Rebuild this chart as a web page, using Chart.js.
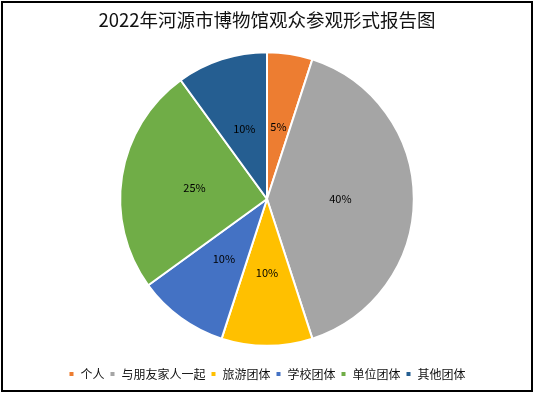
<!DOCTYPE html>
<html>
<head>
<meta charset="utf-8">
<script src="https://cdn.jsdelivr.net/npm/chart.js@4"></script>
<style>
  body { margin: 0; background: #fff; }
  #frame {
    position: absolute; left: 1px; top: 1px;
    width: 532px; height: 391px;
    box-sizing: border-box; border: 2px solid #000;
  }
  #wrap { position: absolute; left: 0; top: 0; width: 534px; height: 393px; }
</style>
</head>
<body>
<div id="wrap"><canvas id="chart" width="534" height="393"></canvas></div>
<div id="frame"></div>
<script>
// categories and shares (%)
const categories = ['个人', '与朋友家人一起', '旅游团体', '学校团体', '单位团体', '其他团体'];
const shares = [5, 40, 10, 10, 25, 10];
const sliceColors = ['#ED7D31', '#A5A5A5', '#FFC000', '#4472C4', '#70AD47', '#255E91'];

const fontFamily = '"Noto Sans CJK SC", "Noto Sans", sans-serif';

// percent labels in the middle of each slice
const sliceLabels = {
  id: 'sliceLabels',
  afterDatasetsDraw(chart) {
    const ctx = chart.ctx;
    const meta = chart.getDatasetMeta(0);
    ctx.save();
    ctx.font = '11px ' + fontFamily;
    ctx.fillStyle = '#000';
    ctx.textAlign = 'center';
    ctx.textBaseline = 'middle';
    meta.data.forEach((arc, i) => {
      const p = arc.tooltipPosition();
      ctx.fillText(shares[i] + '%', p.x, p.y);
    });
    ctx.restore();
  }
};

new Chart(document.getElementById('chart').getContext('2d'), {
  type: 'pie',
  data: {
    labels: categories,
    datasets: [{
      data: shares,
      backgroundColor: sliceColors,
      borderColor: '#fff',
      borderWidth: 2
    }]
  },
  options: {
    responsive: false,
    animation: false,
    layout: { padding: { top: 2, bottom: 3 } },
    plugins: {
      title: {
        display: true,
        text: '2022年河源市博物馆观众参观形式报告图',
        color: '#111',
        font: { family: fontFamily, size: 18.5, weight: 'normal' },
        padding: { top: 7, bottom: 20 }
      },
      legend: {
        position: 'bottom',
        // empty legend title only used as a spacer above the items
        title: { display: true, text: '', font: { size: 1 }, padding: { top: 15, bottom: 0 } },
        labels: {
          color: '#111',
          boxWidth: 6,
          boxHeight: 6,
          padding: 5,
          font: { family: fontFamily, size: 12 }
        }
      },
      tooltip: { enabled: false }
    }
  },
  plugins: [sliceLabels]
});
</script>
</body>
</html>
